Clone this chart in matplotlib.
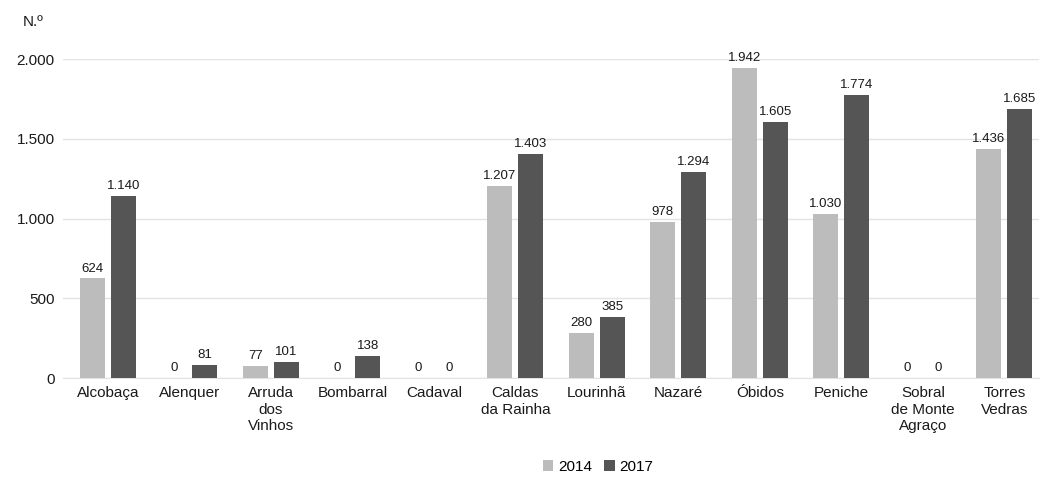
import matplotlib
matplotlib.use("Agg")
import matplotlib.pyplot as plt
import numpy as np

categories = ["Alcobaça", "Alenquer", "Arruda\ndos\nVinhos", "Bombarral", "Cadaval",
              "Caldas\nda Rainha", "Lourinhã", "Nazaré", "Óbidos", "Peniche",
              "Sobral\nde Monte\nAgraço", "Torres\nVedras"]
values_2014 = [624, 0, 77, 0, 0, 1207, 280, 978, 1942, 1030, 0, 1436]
values_2017 = [1140, 81, 101, 138, 0, 1403, 385, 1294, 1605, 1774, 0, 1685]
series_names = ["2014", "2017"]
yticks = [0, 500, 1000, 1500, 2000]
ytick_labels = ["0", "500", "1.000", "1.500", "2.000"]

plt.rcParams['font.family'] = ['Liberation Sans', 'DejaVu Sans']

fig = plt.figure(figsize=(10.4, 4.84), dpi=100)
ax = fig.add_axes([0.0606, 0.219, 0.938, 0.659])

x = np.arange(len(categories))
w = 0.31
off = 0.19
c14 = "#bcbcbc"
c17 = "#555555"
b1 = ax.bar(x - off, values_2014, w, color=c14, label=series_names[0], zorder=3)
b2 = ax.bar(x + off, values_2017, w, color=c17, label=series_names[1], zorder=3)

def fmt(v):
    return f"{v:,}".replace(",", ".")

for xi, v in zip(x, values_2014):
    ax.text(xi - off, v + 25, fmt(v), ha="center", va="bottom", fontsize=9.5, color="#1a1a1a")
for xi, v in zip(x, values_2017):
    ax.text(xi + off, v + 25, fmt(v), ha="center", va="bottom", fontsize=9.5, color="#1a1a1a")

ax.set_xlim(-0.55, 11.42)
ax.set_ylim(0, 2000)
ax.set_yticks(yticks)
ax.set_yticklabels(ytick_labels, fontsize=11, color="#1a1a1a")
ax.set_xticks(x)
ax.set_xticklabels(categories, fontsize=11, va="top", linespacing=1.2, color="#1a1a1a")
ax.tick_params(axis="both", length=0, pad=6)
ax.grid(axis="y", color="#e3e3e3", linewidth=1, zorder=0)
for s in ["top", "right", "left"]:
    ax.spines[s].set_visible(False)
ax.spines["bottom"].set_color("#e3e3e3")
ax.set_axisbelow(True)

fig.text(0.022, 0.955, "N.º", fontsize=11, ha="left", va="center", color="#1a1a1a")

fig.legend(handles=[b1, b2], labels=series_names, loc="center", bbox_to_anchor=(0.575, 0.035),
           ncol=2, frameon=False, fontsize=11, handlelength=0.7, handleheight=0.7,
           handletextpad=0.3, columnspacing=0.8)

fig.savefig("out.png", dpi=100)
